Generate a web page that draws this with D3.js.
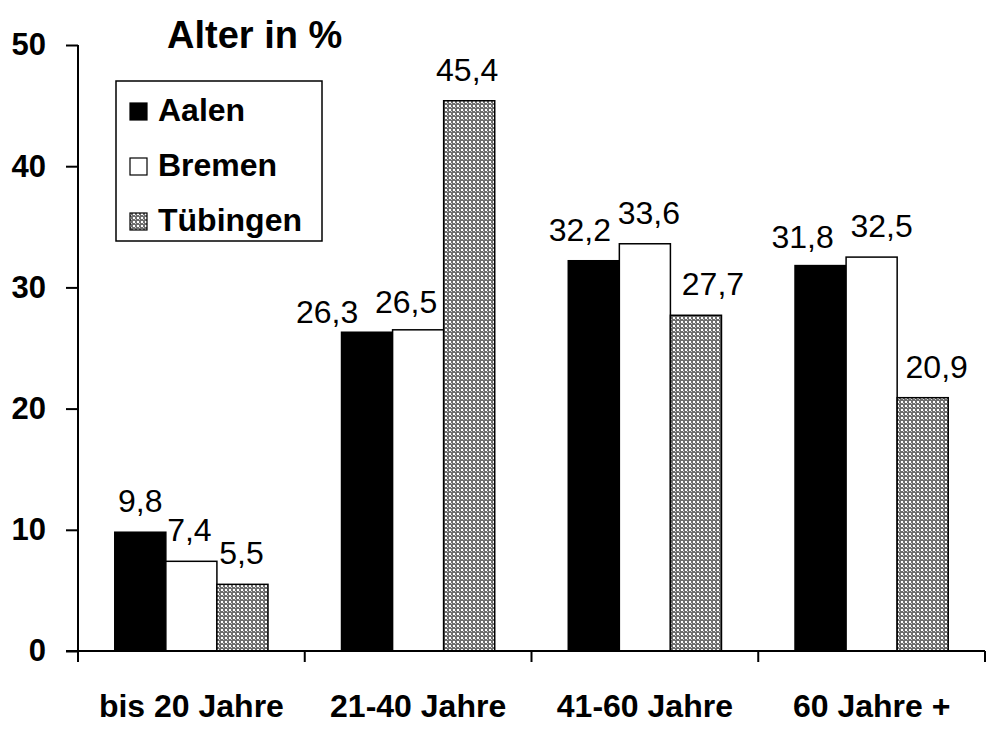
<!DOCTYPE html>
<html><head><meta charset="utf-8">
<script src="https://cdn.jsdelivr.net/npm/d3@7"></script>
<style>body{margin:0;background:#fff}svg{display:block}text{font-family:Arial,"Liberation Sans",sans-serif}</style>
</head><body>
<script>
const categories = ["bis 20 Jahre","21-40 Jahre","41-60 Jahre","60 Jahre +"];
const seriesNames = ["Aalen","Bremen","Tübingen"];
const aalen = [9.8,26.3,32.2,31.8];
const bremen = [7.4,26.5,33.6,32.5];
const tuebingen = [5.5,45.4,27.7,20.9];
const yTicks = [0,10,20,30,40,50];
const values = {"Aalen":aalen,"Bremen":bremen,"Tübingen":tuebingen};
// label placement nudges (px), as in the original
const labelDx = {"Aalen":[0,-40,-14,-18],"Bremen":[-2,-12,4,10],"Tübingen":[-1,-2,17,14]};
const labelDy = {"Aalen":[0,11,0,2],"Bremen":[0,3,0,0],"Tübingen":[0,0,0,0]};
const fmt = v => d3.format(".1f")(v).replace(".", ",");

const W=988,H=734;
const svg=d3.select("body").append("svg").attr("width",W).attr("height",H);
const defs=svg.append("defs");
const pat=defs.append("pattern").attr("id","chk").attr("patternUnits","userSpaceOnUse").attr("width",4).attr("height",4);
pat.append("rect").attr("width",4).attr("height",4).attr("fill","#6e6e6e");
pat.append("rect").attr("x",1).attr("y",1).attr("width",2).attr("height",2).attr("fill","#ffffff");
pat.append("rect").attr("x",3).attr("y",3).attr("width",1).attr("height",1).attr("fill","#d0d0d0");
const fills={"Aalen":"#000","Bremen":"#fff","Tübingen":"url(#chk)"};

const y=d3.scaleLinear().domain([0,50]).range([651,45]);
const x0=d3.scaleBand().domain(categories).range([78,985]).paddingInner(0).paddingOuter(0);
const x1=d3.scaleBand().domain(seriesNames).range([0,x0.bandwidth()]).paddingInner(0).paddingOuter(0.72);

// bars
seriesNames.forEach(s=>{
  const g=svg.append("g");
  g.selectAll("rect").data(categories).join("rect")
    .attr("x",(c)=>x0(c)+x1(s)).attr("width",x1.bandwidth())
    .attr("y",(c,i)=>y(values[s][i])).attr("height",(c,i)=>y(0)-y(values[s][i]))
    .attr("fill",fills[s]).attr("stroke","#000").attr("stroke-width",1.5);
  g.selectAll("text").data(categories).join("text")
    .attr("x",(c,i)=>x0(c)+x1(s)+x1.bandwidth()/2+labelDx[s][i])
    .attr("y",(c,i)=>y(values[s][i])-20+labelDy[s][i])
    .attr("text-anchor","middle").attr("font-size",32).text((c,i)=>fmt(values[s][i]));
});

// y axis
const ya=svg.append("g").attr("transform","translate(78,0)")
  .call(d3.axisLeft(y).tickValues(yTicks).tickSize(12).tickPadding(20).tickFormat(d3.format("d")));
ya.select(".domain").attr("d","M0,45V651").attr("stroke","#000").attr("stroke-width",2);
ya.selectAll(".tick line").attr("stroke","#000").attr("stroke-width",2);
ya.selectAll(".tick text").attr("font-size",31).attr("font-weight","bold").attr("fill","#000")
  .attr("font-family","Arial,'Liberation Sans',sans-serif");

// x axis
const xa=svg.append("g").attr("transform","translate(0,651)");
xa.append("line").attr("x1",66).attr("x2",985).attr("stroke","#000").attr("stroke-width",2);
const bounds=categories.map(c=>x0(c)).concat([x0.range()[1]]);
xa.selectAll("line.t").data(bounds).join("line").attr("class","t")
  .attr("x1",d=>d).attr("x2",d=>d).attr("y1",0).attr("y2",11).attr("stroke","#000").attr("stroke-width",2);
xa.selectAll("text").data(categories).join("text")
  .attr("x",c=>x0(c)+x0.bandwidth()/2).attr("y",66).attr("text-anchor","middle")
  .attr("font-size",32).attr("font-weight","bold").text(c=>c);

// title
svg.append("text").attr("x",167).attr("y",48).attr("font-size",38).attr("font-weight","bold").text("Alter in %");

// legend
const lg=svg.append("g");
lg.append("rect").attr("x",116).attr("y",81).attr("width",206).attr("height",160).attr("fill","#fff").attr("stroke","#000").attr("stroke-width",1.5);
seriesNames.forEach((s,i)=>{
  const by=121+i*55;
  lg.append("rect").attr("x",130).attr("y",by-18).attr("width",17).attr("height",17)
    .attr("fill",fills[s]).attr("stroke","#000").attr("stroke-width",1.2);
  lg.append("text").attr("x",158).attr("y",by).attr("font-size",32).attr("font-weight","bold").text(s);
});
</script>
</body></html>
